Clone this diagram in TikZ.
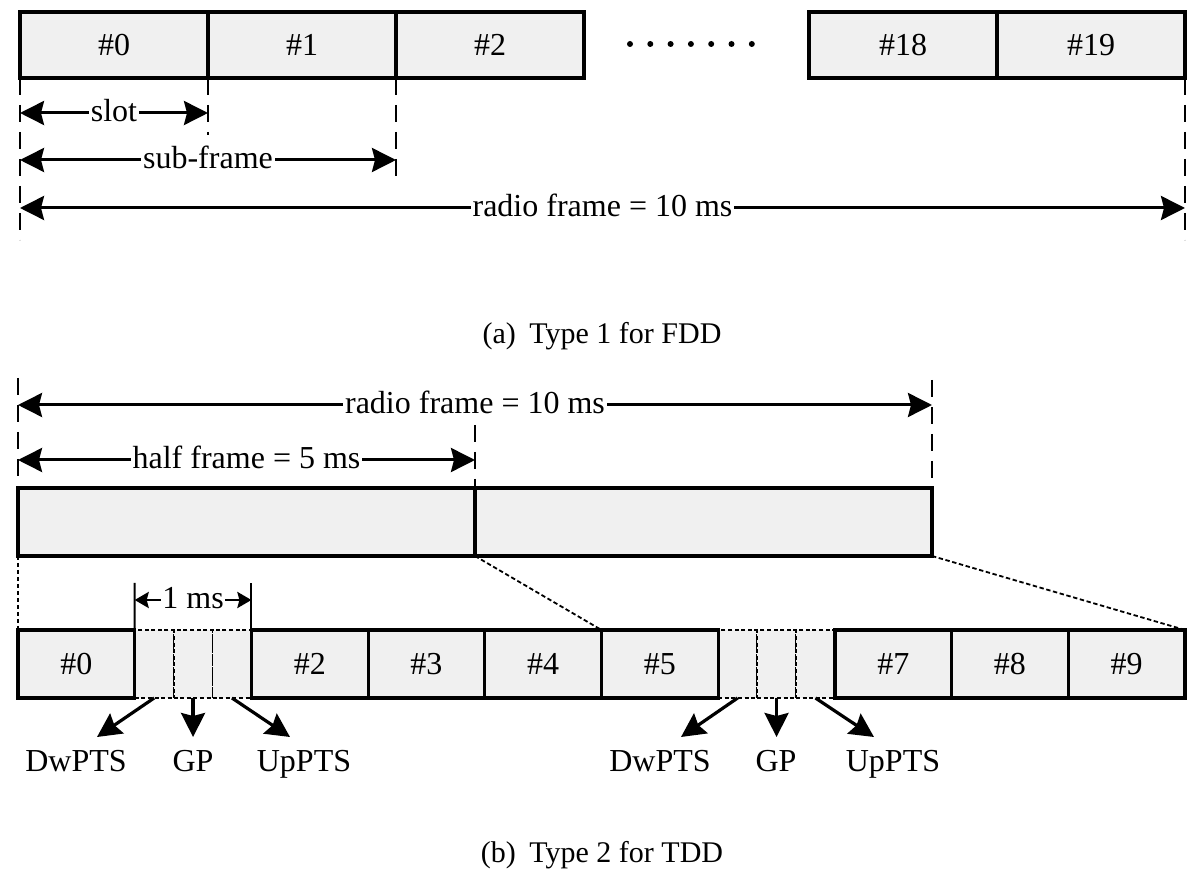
\documentclass[tikz,border=0pt]{standalone}
\usepackage{fontspec}
\setmainfont{Liberation Serif}
\usetikzlibrary{arrows.meta,calc}
\tikzset{
  bigtip/.tip={Stealth[length=12pt,width=12pt,inset=1.5pt]},
  smalltip/.tip={Stealth[length=7pt,width=8pt,inset=1pt]}
}
\begin{document}
\begin{tikzpicture}[x=0.5pt,y=-0.5pt,
  every node/.style={font=\fontsize{16}{19}\selectfont},
  cell/.style={draw,line width=1.6pt,fill=black!6,inner sep=0pt,outer sep=0pt},
  topcell/.style={cell,minimum width=94pt,minimum height=33pt},
  halfcell/.style={cell,minimum width=228.5pt,minimum height=34pt},
  subcell/.style={cell,minimum width=58.35pt,minimum height=34pt},
  specpart/.style={draw,line width=0.9pt,dash pattern=on 2pt off 1.3pt,fill=black!6,minimum height=34pt,minimum width=19.45pt,inner sep=0pt,outer sep=0pt},
  guide/.style={line width=0.9pt,dash pattern=on 8.5pt off 5pt},
  zoomline/.style={line width=0.9pt,dash pattern=on 2.2pt off 1.3pt},
  tickline/.style={line width=1pt},
  dim/.style={line width=1.5pt,bigtip-bigtip},
  smalldim/.style={line width=1.3pt,smalltip-smalltip},
  pointer/.style={line width=1.6pt,-bigtip},
  dimlabel/.style={fill=white,inner sep=1pt,anchor=base,yshift=-4.5pt},
  smalllabel/.style={fill=white,inner sep=0.5pt,anchor=base,yshift=-4.5pt},
  partlabel/.style={anchor=base},
  captext/.style={font=\fontsize{15}{18}\selectfont}
]
\useasboundingbox (0,0) rectangle (1200,881);

% ---------------- (a) FDD ----------------
\node[topcell] (s0)  at (114,45)  {\#0};
\node[topcell] (s1)  at (302,45)  {\#1};
\node[topcell] (s2)  at (490,45)  {\#2};
\node[topcell] (s18) at (903,45)  {\#18};
\node[topcell] (s19) at (1091,45) {\#19};
\foreach \i in {0,...,6} \fill (630+20.3*\i,44) circle (1.5pt);

\coordinate (g0) at (20,240);
\coordinate (g1) at (208,135);
\coordinate (g2) at (396,178);
\coordinate (g3) at (1185,240);
\draw[guide] (s0.south west) -- (g0);
\draw[guide] (s0.south east) -- (g1);
\draw[guide] (s1.south east) -- (g2);
\draw[guide] (s19.south east) -- (g3);

\coordinate (slotL) at (20,113);   \coordinate (slotR) at (208,113);
\coordinate (subL) at (20,160);    \coordinate (subR) at (396,160);
\coordinate (rfL) at (20,208);     \coordinate (rfR) at (1185,208);
\draw[dim] (slotL) -- node[dimlabel] (lslot) {slot} (slotR);
\draw[dim] (subL) -- node[dimlabel] (lsub) {sub-frame} (subR);
\draw[dim] (rfL) -- node[dimlabel] (lrf) {radio frame = 10 ms} (rfR);

\node[captext] (capa) at (602,336) {(a)\hspace{0.45em}Type 1 for FDD};

% ---------------- (b) TDD ----------------
\coordinate (b0top) at (18,378);  \coordinate (b0bot) at (18,478);
\coordinate (b1top) at (475,425);
\coordinate (b2top) at (932,380); \coordinate (b2bot) at (932,478);

\node[halfcell] (hf1) at (246.5,522) {};
\node[halfcell] (hf2) at (703.5,522) {};

\draw[guide] (b0top) -- (b0bot);
\draw[guide] (b1top) -- (hf1.north east);
\draw[guide] (b2top) -- (b2bot);

\coordinate (rf2L) at (18,405);  \coordinate (rf2R) at (932,405);
\coordinate (hfL) at (18,460);   \coordinate (hfR) at (475,460);
\draw[dim] (rf2L) -- node[dimlabel] (lrf2) {radio frame = 10 ms} (rf2R);
\draw[dim] (hfL) -- node[dimlabel] (lhf) {half frame = 5 ms} (hfR);

% special sub-frame parts
\node[specpart] (p1a) at (154.15,664) {};
\node[specpart] (p1b) at (193.05,664) {};
\node[specpart] (p1c) at (231.95,664) {};
\node[specpart] (p6a) at (737.65,664) {};
\node[specpart] (p6b) at (776.55,664) {};
\node[specpart] (p6c) at (815.45,664) {};

\node[subcell] (t0) at (76.35,664)   {\#0};
\node[subcell] (t2) at (309.75,664)  {\#2};
\node[subcell] (t3) at (426.45,664)  {\#3};
\node[subcell] (t4) at (543.15,664)  {\#4};
\node[subcell] (t5) at (659.85,664)  {\#5};
\node[subcell] (t7) at (893.25,664)  {\#7};
\node[subcell] (t8) at (1009.95,664) {\#8};
\node[subcell] (t9) at (1126.65,664) {\#9};

% zoom lines
\draw[zoomline] (hf1.south west) -- (t0.north west);
\draw[zoomline] (hf1.south east) -- (t5.north west);
\draw[zoomline] (hf2.south east) -- (t9.north east);

% 1 ms
\coordinate (mtL) at (134.7,583);
\coordinate (mtR) at (251.4,583);
\draw[tickline] (t0.north east) -- (mtL);
\draw[tickline] (t2.north west) -- (mtR);
\coordinate (msL) at (134.7,600);
\coordinate (msR) at (251.4,600);
\draw[smalldim] (msL) -- node[smalllabel] (lms) {1 ms} (msR);

% pointers and labels
\node[partlabel] (dw1) at (76,771)  {DwPTS};
\node[partlabel] (gp1) at (193,771) {GP};
\node[partlabel] (up1) at (304,771) {UpPTS};
\node[partlabel] (dw6) at (660,771) {DwPTS};
\node[partlabel] (gp6) at (776,771) {GP};
\node[partlabel] (up6) at (893,771) {UpPTS};

\coordinate (dwt1) at (97,737);
\coordinate (gpt1) at (193.05,737);
\coordinate (upt1) at (290,737);
\coordinate (dwt6) at (681,737);
\coordinate (gpt6) at (776.55,737);
\coordinate (upt6) at (874,737);
\draw[pointer] (p1a.south) -- (dwt1);
\draw[pointer] (p1b.south) -- (gpt1);
\draw[pointer] (p1c.south) -- (upt1);
\draw[pointer] (p6a.south) -- (dwt6);
\draw[pointer] (p6b.south) -- (gpt6);
\draw[pointer] (p6c.south) -- (upt6);

\node[captext] (capb) at (602,855) {(b)\hspace{0.45em}Type 2 for TDD};
\end{tikzpicture}
\end{document}
